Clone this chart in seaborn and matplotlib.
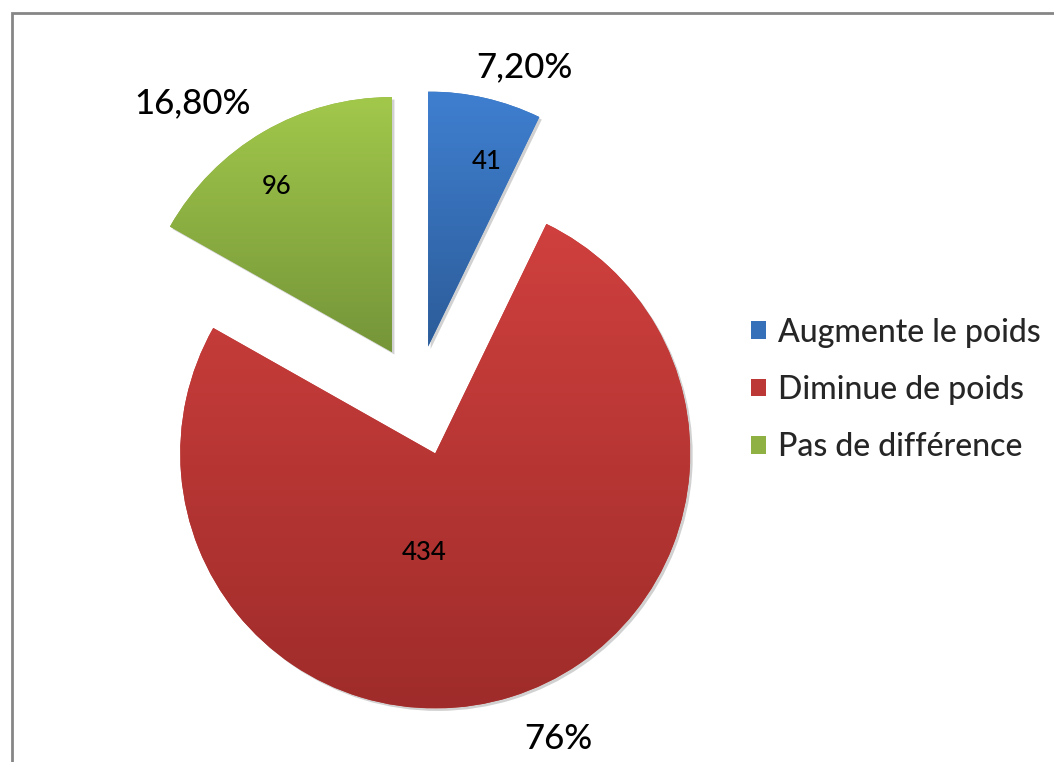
import numpy as np
import matplotlib
matplotlib.use("Agg")
import matplotlib.pyplot as plt
import seaborn as sns
from matplotlib.patches import Patch, Rectangle, Wedge
from matplotlib.colors import to_rgb

# ---- data ----
categories = ["Augmente le poids", "Diminue de poids", "Pas de différence"]
counts = [41, 434, 96]
pct_labels = ["7,20%", "76%", "16,80%"]

# ---- styles ----
top_colors = ["#3f7fd0", "#cf403e", "#a2c84b"]
bottom_colors = ["#2c5c99", "#9f2c2a", "#759539"]
mid_colors = ["#3670b8", "#bc3836", "#8fb043"]
explode = [0.195, 0.24, 0.195]
inner_pos = [(0.76, -4.8), (0.39, -23.8), (0.79, 4.6)]   # (radius frac, angle offset)
outer_pos = [(1.16, -6.0), (1.22, 6.0), (1.25, 8.5)]

sns.set_theme(style="white")
plt.rcParams["font.family"] = ["Lato", "DejaVu Sans"]

W, H = 1054, 762
fig = plt.figure(figsize=(W / 100, H / 100), dpi=100)
fig.patch.set_facecolor("white")

R_PX = 255
cx_px, cy_px = 417, H - 395
L = 1.45
half = L * R_PX
ax = fig.add_axes([(cx_px - half) / W, (cy_px - half) / H, 2 * half / W, 2 * half / H])
ax.set_xlim(-L, L)
ax.set_ylim(-L, L)
ax.set_aspect("equal")
ax.axis("off")

wedges, _ = ax.pie(counts, startangle=90, counterclock=False, explode=explode,
                   radius=1.0, colors=mid_colors, wedgeprops=dict(linewidth=0))

def grad_img(c_top, c_bot, n=256):
    t = np.linspace(0, 1, n)[:, None]
    a = np.array(to_rgb(c_top)); b = np.array(to_rgb(c_bot))
    img = a[None, None, :] * (1 - t[..., None]) + b[None, None, :] * t[..., None]
    return img

shadow_off = 2.5 / R_PX
for i, w in enumerate(wedges):
    sh = Wedge((w.center[0] + shadow_off, w.center[1] - shadow_off), w.r, w.theta1, w.theta2,
               facecolor="#000000", alpha=0.18, linewidth=0, zorder=0.5)
    ax.add_patch(sh)
    w.set_zorder(1)
    ext = w.get_path().get_extents()
    im = ax.imshow(grad_img(top_colors[i], bottom_colors[i]),
                   extent=[ext.x0, ext.x1, ext.y0, ext.y1], origin="upper",
                   aspect="auto", zorder=1.5, interpolation="bilinear")
    im.set_clip_path(w)

    mid = np.deg2rad((w.theta1 + w.theta2) / 2)
    rf, off = inner_pos[i]
    a = mid + np.deg2rad(off)
    ax.text(w.center[0] + rf * np.cos(a), w.center[1] + rf * np.sin(a), str(counts[i]),
            ha="center", va="center", fontsize=18.5, color="black", zorder=3,
            fontweight="medium")
    rf, off = outer_pos[i]
    a = mid + np.deg2rad(off)
    ax.text(w.center[0] + rf * np.cos(a), w.center[1] + rf * np.sin(a), pct_labels[i],
            ha="center", va="center", fontsize=25, color="black", zorder=3, clip_on=False,
            fontweight="medium")

ax.set_xlim(-L, L)
ax.set_ylim(-L, L)

handles = [Patch(facecolor=mid_colors[i], edgecolor="none") for i in range(3)]
fig.legend(handles, categories, loc="center left",
           bbox_to_anchor=(751 / W, (H - 390) / H), frameon=False,
           prop=dict(family=["Lato", "DejaVu Sans"], size=23, weight="medium"),
           handlelength=0.46, handleheight=0.46, handletextpad=0.4,
           labelspacing=0.86, borderpad=0, borderaxespad=0)

fig.patches.append(Rectangle((12 / W, -0.05), 1.2, (H - 13) / H + 0.05,
                             transform=fig.transFigure, fill=False,
                             edgecolor="#868686", linewidth=2))

fig.savefig("out.png", dpi=100, facecolor="white")
